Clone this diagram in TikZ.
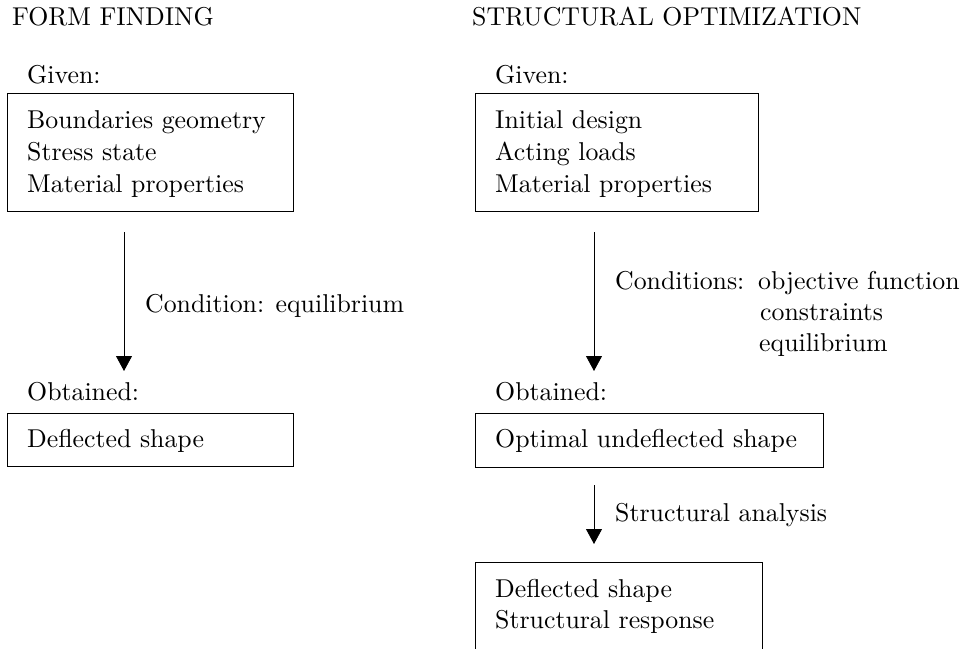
\documentclass[tikz,border=0pt]{standalone}
\usepackage{fontspec}
\setmainfont{lmroman10-regular}[Extension=.otf]
\usetikzlibrary{arrows.meta}
\begin{document}
\begin{tikzpicture}[x=1pt,y=-1pt,
  txt/.style={anchor=base west,inner sep=0pt,font=\fontsize{25.8}{31}\selectfont},
  boxx/.style={draw,line width=0.8pt,anchor=north west,inner sep=0pt},
  flow/.style={line width=0.8pt,-{Triangle[length=15pt,width=16pt]}}]
\useasboundingbox (0,0) rectangle (969,648);
\clip (0,0) rectangle (969,648);
% left column
\node[txt] (t1) at (12,25) {FORM FINDING};
\node[txt] (g1) at (27,83) {Given:};
\node[boxx,minimum width=286pt,minimum height=118pt] (b1) at (7,93) {};
\node[txt] (l11) at (27,128) {Boundaries geometry};
\node[txt] (l12) at (27,160) {Stress state};
\node[txt] (l13) at (27,192) {Material properties};
\coordinate (a1s) at (124,232);
\coordinate (a1e) at (124,371);
\draw[flow] (a1s) -- (a1e);
\node[txt] (c1) at (145,312) {Condition: equilibrium};
\node[txt] (o1) at (27,400) {Obtained:};
\node[boxx,minimum width=286pt,minimum height=53pt] (b2) at (7,413) {};
\node[txt] (l21) at (27,447) {Deflected shape};
% right column
\node[txt] (t2) at (472,25) {STRUCTURAL OPTIMIZATION};
\node[txt] (g2) at (495,83) {Given:};
\node[boxx,minimum width=283pt,minimum height=118pt] (b3) at (475,93) {};
\node[txt] (l31) at (495,128) {Initial design};
\node[txt] (l32) at (495,160) {Acting loads};
\node[txt] (l33) at (495,192) {Material properties};
\coordinate (a2s) at (594,232);
\coordinate (a2e) at (594,371);
\draw[flow] (a2s) -- (a2e);
\node[txt] (c2) at (615,289) {Conditions:};
\node[txt] (c21) at (758,289) {objective function};
\node[txt] (c22) at (760,320) {constraints};
\node[txt] (c23) at (759,351) {equilibrium};
\node[txt] (o2) at (495,400) {Obtained:};
\node[boxx,minimum width=348pt,minimum height=54pt] (b4) at (475,413) {};
\node[txt] (l41) at (495,447) {Optimal undeflected shape};
\coordinate (a3s) at (594,485);
\coordinate (a3e) at (594,544);
\draw[flow] (a3s) -- (a3e);
\node[txt] (c3) at (615,521) {Structural analysis};
\node[boxx,minimum width=287pt,minimum height=110pt] (b5) at (475,562) {};
\node[txt] (l51) at (495,597) {Deflected shape};
\node[txt] (l52) at (495,628) {Structural response};
\end{tikzpicture}
\end{document}
